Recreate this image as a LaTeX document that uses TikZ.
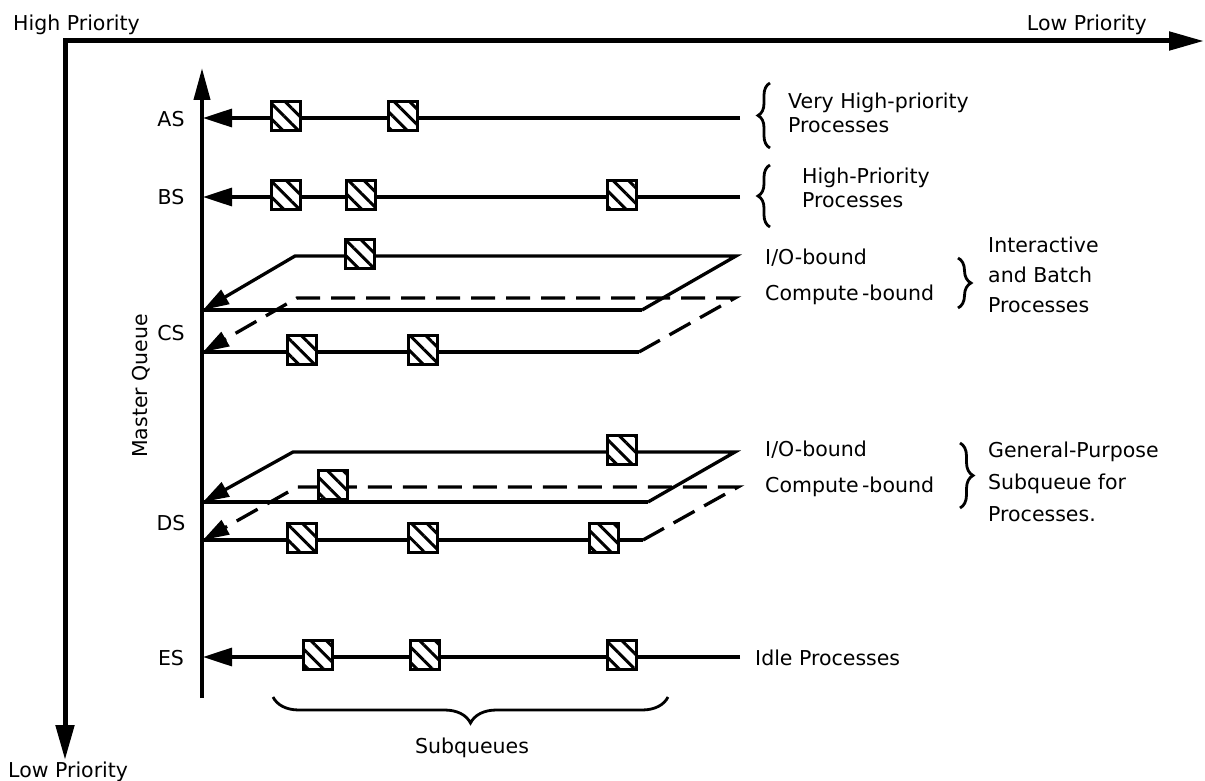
\documentclass[tikz,border=0pt]{standalone}
\usepackage{fontspec}
\setmainfont{DejaVu Sans}
\usetikzlibrary{arrows.meta,patterns.meta,decorations.pathreplacing}

\begin{document}
\begin{tikzpicture}[x=1pt,y=-1pt,
    every node/.style={font=\fontsize{20.5}{24}\selectfont, inner sep=0pt},
    prio/.style={line width=5pt, {Triangle[length=35pt,width=18pt]}-{Triangle[length=35pt,width=18pt]}},
    master/.style={line width=4pt, -{Triangle[length=32pt,width=16pt]}},
    queue/.style={line width=3.3pt, -{Triangle[length=29pt,width=18pt]}},
    drop/.style={line width=3.3pt, -{Triangle[length=26pt,width=16pt]}},
    rim/.style={line width=3.3pt},
    backline/.style={dash pattern=on 24pt off 11pt},
    job/.style={draw, line width=3.3pt, minimum size=29pt, yshift=2pt, preaction={fill=white},
        pattern={Lines[angle=-45,distance=11pt,line width=3pt]}},
    curly/.style={line width=2.8pt, decorate, decoration={brace, amplitude=#1}}]
        \useasboundingbox (0,0) rectangle (1205,781);
        \coordinate (corner) at (65,41);
        \coordinate (x-end) at (1204,41);
        \coordinate (y-end) at (65,760);
        \draw [prio] (x-end) -- (corner) -- (y-end);
        \node [anchor=base west] (high) at (13,31) {High Priority};
        \node [anchor=base east] (low-x) at (1147,31) {Low Priority};
        \node [anchor=base west] (low-y) at (8,777) {Low Priority};
        \coordinate (mq-foot) at (202,698);
        \coordinate (mq-top) at (202,68);
        \draw [master] (mq-foot) -- (mq-top);
        \node [rotate=90, anchor=base] (mq) at (147,386) {Master Queue};
        \node (AS) at (171,119) {AS};
        \node (BS) at (171,197) {BS};
        \node (CS) at (171,333) {CS};
        \node (DS) at (171,523) {DS};
        \node (ES) at (171,658) {ES};
        \coordinate (as-tail) at (740,118);
        \coordinate (as-head) at (203,118);
        \draw [queue] (as-tail) -- (as-head);
        \coordinate (bs-tail) at (740,197);
        \coordinate (bs-head) at (203,197);
        \draw [queue] (bs-tail) -- (bs-head);
        \coordinate (csi-nw) at (295,256);
        \coordinate (csi-ne) at (736,256);
        \coordinate (csi-se) at (642,310);
        \coordinate (csi-sw) at (203,310);
        \draw [drop] (csi-se) -- (csi-ne) -- (csi-nw) -- (csi-sw);
        \draw [rim] (csi-sw) -- (csi-se);
        \coordinate (csc-nw) at (297,298);
        \coordinate (csc-ne) at (735,298);
        \coordinate (csc-se) at (639,352);
        \coordinate (csc-sw) at (203,352);
        \draw [drop, backline] (csc-se) -- (csc-ne) -- (csc-nw) -- (csc-sw);
        \draw [rim] (csc-sw) -- (csc-se);
        \coordinate (dsi-nw) at (293,452);
        \coordinate (dsi-ne) at (735,452);
        \coordinate (dsi-se) at (648,502);
        \coordinate (dsi-sw) at (203,502);
        \draw [drop] (dsi-se) -- (dsi-ne) -- (dsi-nw) -- (dsi-sw);
        \draw [rim] (dsi-sw) -- (dsi-se);
        \coordinate (dsc-nw) at (297,487);
        \coordinate (dsc-ne) at (738,487);
        \coordinate (dsc-se) at (643,540);
        \coordinate (dsc-sw) at (203,540);
        \draw [drop, backline] (dsc-se) -- (dsc-ne) -- (dsc-nw) -- (dsc-sw);
        \draw [rim] (dsc-sw) -- (dsc-se);
        \coordinate (es-tail) at (740,657);
        \coordinate (es-head) at (203,657);
        \draw [queue] (es-tail) -- (es-head);
        \node [job] (as-1) at (286,118) {};
        \node [job] (as-2) at (403,118) {};
        \node [job] (bs-1) at (286,197) {};
        \node [job] (bs-2) at (361,197) {};
        \node [job] (bs-3) at (622,197) {};
        \node [job] (csi-1) at (360,256) {};
        \node [job] (csc-1) at (302,352) {};
        \node [job] (csc-2) at (423,352) {};
        \node [job] (dsi-1) at (622,452) {};
        \node [job] (dsc-1) at (333,487) {};
        \node [job] (ds-1) at (302,540) {};
        \node [job] (ds-2) at (423,540) {};
        \node [job] (ds-3) at (604,540) {};
        \node [job] (es-1) at (318,657) {};
        \node [job] (es-2) at (425,657) {};
        \node [job] (es-3) at (622,657) {};
        \draw [curly=12pt] (770,148) -- (770,83);
        \node [anchor=north west, align=left] (as-text) at (788,93) {Very High-priority\\Processes};
        \draw [curly=12pt] (770,227) -- (770,165);
        \node [anchor=north west, align=left] (bs-text) at (802,168) {High-Priority\\Processes};
        \node [anchor=base west] (csi-text) at (765,264) {I/O-bound};
        \node [anchor=base west] (csc-text) at (765,300) {Compute\,-bound};
        \draw [curly=13pt] (958,258) -- (958,308);
        \node [anchor=north west, align=left, font=\fontsize{20.5}{30}\selectfont] (cs-text) at (988,237) {Interactive\\and Batch\\Processes};
        \node [anchor=base west] (dsi-text) at (765,456) {I/O-bound};
        \node [anchor=base west] (dsc-text) at (765,492) {Compute\,-bound};
        \draw [curly=13pt] (960,443) -- (960,508);
        \node [anchor=north west, align=left, font=\fontsize{20.5}{32}\selectfont] (ds-text) at (988,442) {General-Purpose\\Subqueue for\\Processes.};
        \node [anchor=base west] (es-text) at (755,665) {Idle Processes};
        \draw [curly=26pt] (668,697) -- (273,697);
        \node [anchor=base] (sub) at (472,753) {Subqueues};
\end{tikzpicture}
\end{document}
